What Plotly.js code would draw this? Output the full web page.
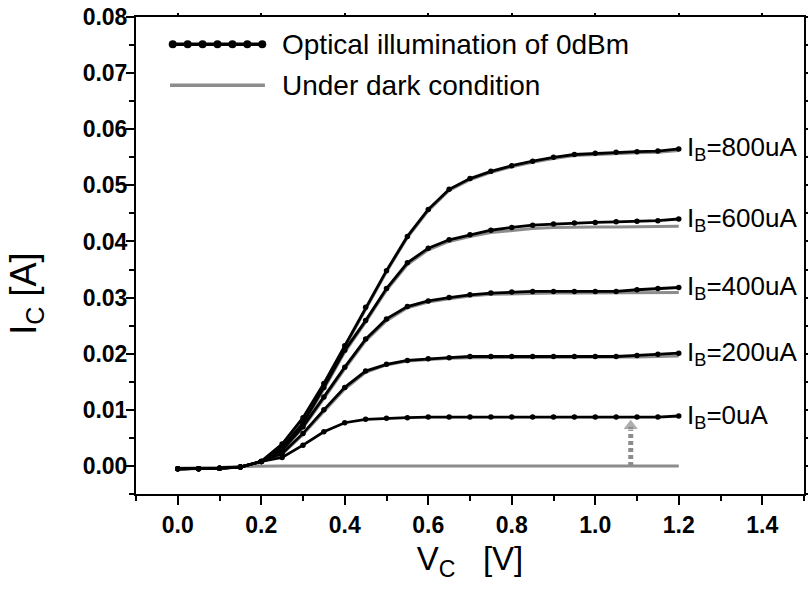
<!DOCTYPE html>
<html>
<head>
<meta charset="utf-8">
<script src="https://cdn.plot.ly/plotly-3.0.1.min.js"></script>
<style>
  html, body { margin: 0; padding: 0; background: #ffffff; }
  #chart { width: 808px; height: 593px; }
</style>
</head>
<body>
<div id="chart"></div>
<script>
// Collector voltage sweep, 0 to 1.2 V in 0.05 V steps
const vc = [0.00, 0.05, 0.10, 0.15, 0.20, 0.25, 0.30, 0.35, 0.40, 0.45, 0.50, 0.55, 0.60,
            0.65, 0.70, 0.75, 0.80, 0.85, 0.90, 0.95, 1.00, 1.05, 1.10, 1.15, 1.20];

// Base-current labels
const baseLabels = ["I<sub>B</sub>=0uA", "I<sub>B</sub>=200uA", "I<sub>B</sub>=400uA",
                    "I<sub>B</sub>=600uA", "I<sub>B</sub>=800uA"];

// Collector current [A] under 0 dBm optical illumination
const icLight0 = [-0.0005, -0.0005, -0.0004, -0.0002, 0.0008, 0.0015, 0.0037, 0.0061, 0.0077, 0.0083,
                  0.0085, 0.0086, 0.0087, 0.0087, 0.0087, 0.0087, 0.0087, 0.0087, 0.0087, 0.0087,
                  0.0087, 0.0087, 0.0087, 0.0087, 0.0089];
const icLight200 = [-0.0005, -0.0005, -0.0004, -0.0002, 0.0008, 0.0022, 0.0058, 0.0100, 0.0140, 0.0169,
                    0.0181, 0.0188, 0.0191, 0.0193, 0.0195, 0.0195, 0.0195, 0.0195, 0.0195, 0.0195,
                    0.0195, 0.0195, 0.0197, 0.0199, 0.0201];
const icLight400 = [-0.0005, -0.0005, -0.0004, -0.0002, 0.0008, 0.0028, 0.0070, 0.0123, 0.0176, 0.0226,
                    0.0262, 0.0284, 0.0294, 0.0300, 0.0305, 0.0308, 0.0310, 0.0311, 0.0311, 0.0311,
                    0.0311, 0.0311, 0.0314, 0.0316, 0.0318];
const icLight600 = [-0.0005, -0.0005, -0.0004, -0.0002, 0.0008, 0.0033, 0.0076, 0.0140, 0.0206, 0.0259,
                    0.0316, 0.0362, 0.0388, 0.0403, 0.0412, 0.0420, 0.0425, 0.0429, 0.0431, 0.0433,
                    0.0434, 0.0435, 0.0436, 0.0437, 0.0440];
const icLight800 = [-0.0005, -0.0005, -0.0004, -0.0002, 0.0008, 0.0039, 0.0086, 0.0147, 0.0214, 0.0283,
                    0.0348, 0.0409, 0.0457, 0.0493, 0.0512, 0.0525, 0.0535, 0.0543, 0.0550, 0.0555,
                    0.0557, 0.0559, 0.0560, 0.0561, 0.0565];

// Collector current [A] under dark condition
const icDark0 = [-0.0004, -0.0004, -0.0003, -0.0001, 0.0000, 0.0000, 0.0000, 0.0000, 0.0000, 0.0000,
                 0.0000, 0.0000, 0.0000, 0.0000, 0.0000, 0.0000, 0.0000, 0.0000, 0.0000, 0.0000,
                 0.0000, 0.0000, 0.0000, 0.0000, 0.0000];
const icDark200 = [-0.0005, -0.0005, -0.0004, -0.0002, 0.0007, 0.0021, 0.0056, 0.0097, 0.0137, 0.0167,
                   0.0180, 0.0187, 0.0190, 0.0192, 0.0193, 0.0193, 0.0193, 0.0193, 0.0193, 0.0193,
                   0.0193, 0.0193, 0.0194, 0.0195, 0.0196];
const icDark400 = [-0.0005, -0.0005, -0.0004, -0.0002, 0.0007, 0.0027, 0.0068, 0.0120, 0.0173, 0.0223,
                   0.0259, 0.0282, 0.0292, 0.0298, 0.0303, 0.0306, 0.0307, 0.0308, 0.0308, 0.0308,
                   0.0308, 0.0308, 0.0308, 0.0308, 0.0309];
const icDark600 = [-0.0005, -0.0005, -0.0004, -0.0002, 0.0007, 0.0032, 0.0074, 0.0137, 0.0203, 0.0256,
                   0.0313, 0.0359, 0.0385, 0.0400, 0.0409, 0.0416, 0.0420, 0.0423, 0.0425, 0.0426,
                   0.0426, 0.0426, 0.0426, 0.0426, 0.0427];
const icDark800 = [-0.0005, -0.0005, -0.0004, -0.0002, 0.0007, 0.0038, 0.0084, 0.0145, 0.0212, 0.0281,
                   0.0346, 0.0407, 0.0455, 0.0491, 0.0510, 0.0523, 0.0533, 0.0541, 0.0548, 0.0553,
                   0.0555, 0.0557, 0.0558, 0.0559, 0.0562];

// Upward arrow marking the photo-induced shift of the I_B = 0 curve
const arrowX = [1.085, 1.085];
const arrowY = [0.0000, 0.0071];

// Legend entries
const legendNames = ["Optical illumination of 0dBm", "Under dark condition"];

const lightSeries = [icLight0, icLight200, icLight400, icLight600, icLight800];
const darkSeries = [icDark0, icDark200, icDark400, icDark600, icDark800];

const BLACK = "#000000";
const GREY = "#8c8c8c";
const FONT = "Liberation Sans, Arial, Helvetica, sans-serif";
const X_RANGE = [-0.1, 1.5];
const Y_RANGE = [-0.005, 0.08];

const traces = [];

// dark curves underneath
darkSeries.forEach(function (ys) {
  traces.push({
    x: vc, y: ys, type: "scatter", mode: "lines",
    line: { color: GREY, width: 3 },
    hoverinfo: "skip", showlegend: false
  });
});

// illuminated curves on top
lightSeries.forEach(function (ys) {
  traces.push({
    x: vc, y: ys, type: "scatter", mode: "lines+markers",
    line: { color: BLACK, width: 2.8 },
    marker: { color: BLACK, size: 5.5 },
    hoverinfo: "skip", showlegend: false
  });
});

// dashed arrow
traces.push({
  x: arrowX, y: arrowY, type: "scatter", mode: "lines+markers",
  line: { color: GREY, width: 5, dash: "4px,3px" },
  marker: { color: GREY, size: [0, 14], symbol: ["circle", "triangle-up"] },
  hoverinfo: "skip", showlegend: false
});

// empty traces that carry the extra tick-only axes
traces.push({ x: [], y: [], xaxis: "x2", yaxis: "y2", hoverinfo: "skip", showlegend: false });
traces.push({ x: [], y: [], xaxis: "x", yaxis: "y3", hoverinfo: "skip", showlegend: false });

// Label each base current at the end of its curve
const annotations = lightSeries.map(function (ys, i) {
  return {
    x: vc[vc.length - 1], y: ys[ys.length - 1], xref: "x", yref: "y",
    text: baseLabels[i], showarrow: false, xanchor: "left", yanchor: "middle",
    xshift: 6, font: { family: FONT, size: 26, color: BLACK }
  };
});

// Y-axis title, set a little below the plot's centre line
annotations.push({
  x: 0, y: 0.42, xref: "paper", yref: "paper", xanchor: "center", yanchor: "middle",
  xshift: -110, textangle: -90, showarrow: false,
  text: "I<sub>C</sub> [A]", font: { family: FONT, size: 36, color: BLACK }
});

// Hand-built legend (line sample with a row of dots, plus text)
const legendX0 = 0.051, legendX1 = 0.193, legendRowY = [0.943, 0.857];
const legendDots = 7;
const shapes = [];
shapes.push({ type: "line", xref: "paper", yref: "paper",
  x0: legendX0, x1: legendX1, y0: legendRowY[0], y1: legendRowY[0],
  line: { color: BLACK, width: 3.4 } });
for (let k = 0; k < legendDots; k++) {
  const px = legendX0 + 0.004 + k * (legendX1 - legendX0 - 0.008) / (legendDots - 1);
  shapes.push({ type: "circle", xref: "paper", yref: "paper",
    xsizemode: "pixel", ysizemode: "pixel", xanchor: px, yanchor: legendRowY[0],
    x0: -4, x1: 4, y0: -4, y1: 4,
    fillcolor: BLACK, line: { color: BLACK, width: 0 } });
}
shapes.push({ type: "line", xref: "paper", yref: "paper",
  x0: legendX0, x1: legendX1, y0: legendRowY[1], y1: legendRowY[1],
  line: { color: GREY, width: 3.4 } });
legendNames.forEach(function (name, i) {
  annotations.push({ x: 0.216, y: legendRowY[i], xref: "paper", yref: "paper",
    text: name, showarrow: false, xanchor: "left", yanchor: "middle",
    font: { family: FONT, size: 28, color: BLACK } });
});

const tickFont = { family: FONT, size: 23, color: BLACK, weight: "bold" };

const layout = {
  width: 808, height: 593,
  margin: { l: 136, r: 4, t: 17, b: 99, pad: 0 },
  paper_bgcolor: "#ffffff", plot_bgcolor: "#ffffff",
  showlegend: false,
  xaxis: {
    range: X_RANGE, tick0: 0, dtick: 0.2, tickformat: ".1f",
    ticks: "outside", ticklen: 9, tickwidth: 2, tickcolor: BLACK,
    minor: { dtick: 0.1, tick0: 0, ticks: "outside", ticklen: 5, tickwidth: 2, tickcolor: BLACK, showgrid: false },
    showline: true, linecolor: BLACK, linewidth: 2, mirror: true,
    showgrid: false, zeroline: false, tickfont: tickFont,
    title: { text: "V<sub>C</sub>   [V]", font: { family: FONT, size: 33, color: BLACK }, standoff: 10 }
  },
  // labelled y axis: short major ticks so the labels sit close to the frame
  yaxis: {
    range: Y_RANGE, tick0: 0, dtick: 0.01, tickformat: ".2f",
    ticks: "outside", ticklen: 2, tickwidth: 2, tickcolor: BLACK,
    minor: { dtick: 0.005, tick0: 0, ticks: "outside", ticklen: 5, tickwidth: 2, tickcolor: BLACK, showgrid: false },
    showline: true, linecolor: BLACK, linewidth: 2, mirror: true,
    showgrid: false, zeroline: false, tickfont: tickFont
  },
  // full-length major ticks on the left
  yaxis3: {
    overlaying: "y", side: "left", anchor: "x", range: Y_RANGE, tick0: 0, dtick: 0.01,
    ticks: "outside", ticklen: 9, tickwidth: 2, tickcolor: BLACK,
    showticklabels: false, showline: false, showgrid: false, zeroline: false
  },
  // short mirrored ticks on top and right
  xaxis2: {
    overlaying: "x", side: "top", anchor: "y", range: X_RANGE, tick0: 0, dtick: 0.2,
    ticks: "outside", ticklen: 3, tickwidth: 2, tickcolor: BLACK,
    showticklabels: false, showline: false, showgrid: false, zeroline: false
  },
  yaxis2: {
    overlaying: "y", side: "right", anchor: "x", range: Y_RANGE, tick0: 0, dtick: 0.005,
    ticks: "outside", ticklen: 3, tickwidth: 2, tickcolor: BLACK,
    showticklabels: false, showline: false, showgrid: false, zeroline: false
  },
  annotations: annotations,
  shapes: shapes
};

Plotly.newPlot("chart", traces, layout, { displayModeBar: false, staticPlot: true });
</script>
</body>
</html>
